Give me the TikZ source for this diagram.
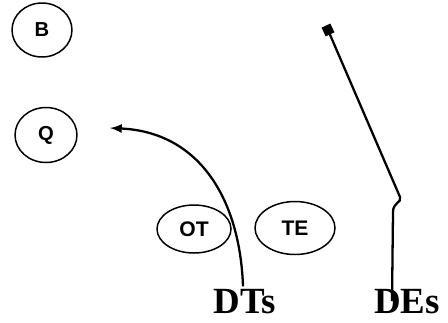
\documentclass[tikz,border=0pt]{standalone}
\usepackage{fontspec}
\setmainfont{Liberation Serif}
\setsansfont{Liberation Sans}
\usetikzlibrary{arrows}
\usetikzlibrary{shapes.geometric}
\tikzset{>=latex}
\tikzstyle{player}=[draw,ellipse,line width=0.85pt,inner sep=0pt,
  font=\sffamily\bfseries\fontsize{11.5}{13}\selectfont]
\tikzstyle{lineman}=[player,font=\sffamily\bfseries\fontsize{12}{14}\selectfont]
\tikzstyle{group}=[font=\bfseries\fontsize{21}{24}\selectfont,inner sep=0pt]
\tikzstyle{route}=[line width=1.3pt]

\begin{document}
\begin{tikzpicture}[x=0.02cm,y=-0.02cm]
  \useasboundingbox (0,0) rectangle (448,322);
  \node[player,minimum width=1.2cm,minimum height=1.08cm] (B) at (42,30) {B};
  \node[player,minimum width=1.24cm,minimum height=1.1cm] (Q) at (46,135) {Q};
  \node[lineman,minimum width=1.48cm,minimum height=0.96cm] (OT) at (194,229) {OT};
  \node[lineman,minimum width=1.6cm,minimum height=1.06cm] (TE) at (295,228) {TE};
  \node[group] (DTs) at (245,302) {DTs};
  \node[group] (DEs) at (407,302) {DEs};
  % rush routes
  \coordinate (dt tip) at (110,128);
  \coordinate (de end) at (392,301);
  \node[fill,rectangle,rotate=25,minimum size=5.5pt,inner sep=0pt] (de mark) at (328,30) {};
  \draw[route,->] (DTs.north) ++(-2,-3) .. controls (240,200) and (200,132) .. (dt tip);
  \draw[route] (de mark.center) -- (400,197)
               .. controls (402,203) and (393,202) .. (393,212) -- (de end);
\end{tikzpicture}
\end{document}
